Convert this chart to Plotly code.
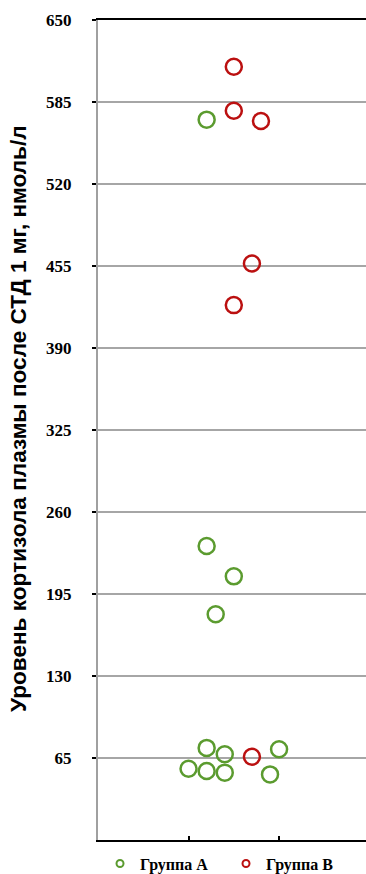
import plotly.graph_objects as go

# Plasma cortisol after 1 mg DST, two patient groups (jittered x positions)
group_a_x = [1.2, 1.2, 1.5, 1.3, 1.2, 1.4, 1.0, 1.2, 1.4, 2.0, 1.9]
group_a_y = [571, 233, 209, 179, 73, 68, 56.5, 54.7, 53.4, 72, 52]
group_b_x = [1.5, 1.5, 1.8, 1.7, 1.5, 1.7]
group_b_y = [613, 578, 570, 457, 424, 66]

y_ticks = [65, 130, 195, 260, 325, 390, 455, 520, 585, 650]
series_names = ["Группа A", "Группа B"]
axis_title = "Уровень кортизола плазмы после СТД 1 мг, нмоль/л"

GREEN = "#5B9B2F"
RED = "#BB1010"

fig = go.Figure()

for xs, ys, color in [(group_a_x, group_a_y, GREEN), (group_b_x, group_b_y, RED)]:
    fig.add_trace(go.Scatter(
        x=xs, y=ys, mode="markers", showlegend=False,
        marker=dict(symbol="circle-open", size=16, color=color,
                    line=dict(width=2.5, color=color)),
    ))

# small legend-only markers
for name, color in zip(series_names, [GREEN, RED]):
    fig.add_trace(go.Scatter(
        x=[None], y=[None], mode="markers", name=name,
        marker=dict(symbol="circle-open", size=7, color=color,
                    line=dict(width=2, color=color)),
    ))

fig.update_layout(
    width=366, height=874,
    margin=dict(l=98, r=0, t=20, b=34, autoexpand=False),
    plot_bgcolor="white", paper_bgcolor="white",
    xaxis=dict(
        range=[0, 2.96], tickvals=[1, 2], showticklabels=False,
        ticks="inside", ticklen=4, tickwidth=1.5, tickcolor="black",
        showgrid=False, zeroline=False,
        showline=True, linecolor="black", linewidth=2, mirror=True,
    ),
    yaxis=dict(
        range=[0, 650], tickvals=y_ticks,
        ticks="outside", ticklen=4, tickwidth=1.5, tickcolor="black",
        ticklabelstandoff=17,
        tickfont=dict(family="Liberation Serif", size=17, color="black", weight="bold"),
        showgrid=True, gridcolor="#A6A6A6", gridwidth=1.5,
        zeroline=False,
        showline=True, linecolor="#A0A0A0", linewidth=2,
    ),
    legend=dict(
        orientation="h", x=0.0075, xanchor="left", y=-0.008, yanchor="top",
        font=dict(family="Liberation Serif", size=16, color="black", weight="bold"),
        entrywidth=81, bgcolor="rgba(0,0,0,0)",
    ),
    annotations=[dict(
        text=axis_title, xref="paper", yref="paper",
        x=(18 - 98) / 268, y=(840 - 419) / 820,
        xanchor="center", yanchor="middle", textangle=-90, showarrow=False,
        font=dict(family="Liberation Sans", size=22.6, color="black", weight="bold"),
    )],
)

fig.write_html("out.html")
